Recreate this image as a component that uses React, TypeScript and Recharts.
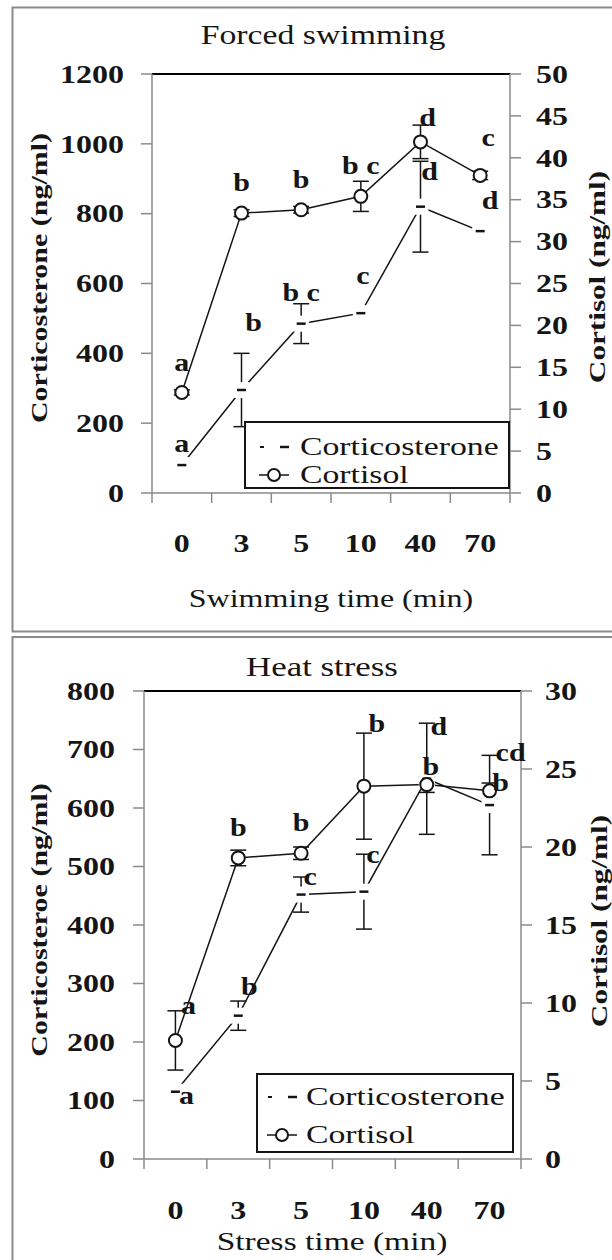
import React from 'react'
import { ComposedChart, Line, XAxis, YAxis, ErrorBar, LabelList, Legend, ReferenceLine } from 'recharts'

const SERIF = "'Liberation Serif', 'Times New Roman', Times, serif"
const INK = '#151515'
const AXIS = '#8a8a8a'

// forced swimming (top panel)
const swimTimes = ['0', '3', '5', '10', '40', '70']
const swimCortico = [80, 295, 485, 515, 820, 750]
const swimCorticoErr = [0, 105, 57, 0, 130, 0]
const swimCortisol = [12, 33.4, 33.8, 35.4, 41.9, 37.9]
const swimCortisolErr = [0.3, 0.4, 0.4, 1.8, 2.0, 0.5]
const swimCorticoLetters = ['a', 'b', 'b c', 'c', 'd', 'd']
const swimCortisolLetters = ['a', 'b', 'b', 'b c', 'd', 'c']
const swimLeftTicks = [0, 200, 400, 600, 800, 1000, 1200]
const swimRightTicks = [0, 5, 10, 15, 20, 25, 30, 35, 40, 45, 50]

// heat stress (bottom panel)
const heatTimes = ['0', '3', '5', '10', '40', '70']
const heatCortico = [115, 245, 452, 457, 650, 605]
const heatCorticoErr = [0, 25, 30, 64, 95, 85]
const heatCortisol = [7.6, 19.3, 19.6, 23.9, 24.0, 23.6]
const heatCortisolErr = [1.9, 0.5, 0.4, 3.4, 0.5, 0.5]
const heatCorticoLetters = ['a', 'b', 'c', 'c', 'd', 'cd']
const heatCortisolLetters = ['a', 'b', 'b', 'b', 'b', 'b']
const heatLeftTicks = [0, 100, 200, 300, 400, 500, 600, 700, 800]
const heatRightTicks = [0, 5, 10, 15, 20, 25, 30]

const buildRows = (
  times: string[], cortico: number[], corticoErr: number[], cortisol: number[],
  cortisolErr: number[], corticoLetters: string[], cortisolLetters: string[]
) =>
  times.map((time, i) => ({
    time,
    cortico: cortico[i],
    corticoErr: corticoErr[i],
    cortisol: cortisol[i],
    cortisolErr: cortisolErr[i],
    corticoLetter: corticoLetters[i],
    cortisolLetter: cortisolLetters[i],
  }))

const swimRows = buildRows(swimTimes, swimCortico, swimCorticoErr, swimCortisol, swimCortisolErr, swimCorticoLetters, swimCortisolLetters)
const heatRows = buildRows(heatTimes, heatCortico, heatCorticoErr, heatCortisol, heatCortisolErr, heatCorticoLetters, heatCortisolLetters)

type TxtProps = {
  x: number
  y: number
  anchor?: 'start' | 'middle' | 'end'
  size?: number
  bold?: boolean
  sx?: number
  rotate?: number
  children: React.ReactNode
}

// the figure's type is drawn wide, so every string is stretched along its baseline
const Txt = ({ x, y, anchor = 'middle', size = 25, bold = false, sx = 1.28, rotate = 0, children }: TxtProps) => (
  <text
    transform={`translate(${x} ${y}) rotate(${rotate}) scale(${sx} 1)`}
    textAnchor={anchor}
    dominantBaseline="central"
    fontFamily={SERIF}
    fontSize={size}
    fontWeight={bold ? 700 : 400}
    fill={INK}
  >
    {children}
  </text>
)

type Layout = {
  width: number
  height: number
  plotLeft: number
  plotRight: number
  plotTop: number
  plotBottom: number
  leftGap: number
  rightGap: number
  xLabelDy: number
  legend: { x: number; y: number; w: number; h: number; row1: number; row2: number; textX: number; iconX: number }
  corticoOff: number[][]
  cortisolOff: number[][]
}

const swimLayout: Layout = {
  width: 612,
  height: 634,
  plotLeft: 152,
  plotRight: 510,
  plotTop: 74,
  plotBottom: 493,
  leftGap: 17,
  rightGap: 15,
  xLabelDy: 50,
  legend: { x: 244, y: 421, w: 266, h: 68, row1: 26, row2: 54, textX: 56, iconX: 30 },
  corticoOff: [[0, -22], [12, -68], [0, -31], [2, -38], [9, -35], [10, -31]],
  cortisolOff: [[0, -30], [0, -31], [0, -30], [0, -31], [7, -24], [8, -38]],
}

const heatLayout: Layout = {
  width: 612,
  height: 626,
  plotLeft: 144,
  plotRight: 521,
  plotTop: 57,
  plotBottom: 525,
  leftGap: 18,
  rightGap: 13,
  xLabelDy: 51,
  legend: { x: 256, y: 439, w: 258, h: 80, row1: 24, row2: 62, textX: 50, iconX: 26 },
  corticoOff: [[11, 4], [11, -29], [9, -18], [9, -37], [12, -52], [21, -53]],
  cortisolOff: [[13, -35], [0, -31], [0, -31], [13, -63], [4, -18], [11, -8]],
}

// corticosterone marker: a short dash on a white patch that breaks the line and bars
const DashDot = (p: any) => {
  if (p.cx == null || p.cy == null) return <g key={p.index} />
  return (
    <g key={p.index}>
      <rect x={p.cx - 8} y={p.cy - 8} width={16} height={16} fill="#fff" />
      <line x1={p.cx - 4.5} x2={p.cx + 4.5} y1={p.cy} y2={p.cy} stroke={INK} strokeWidth={2.5} />
    </g>
  )
}

const CircleDot = (p: any) => {
  if (p.cx == null || p.cy == null) return <g key={p.index} />
  return <circle key={p.index} cx={p.cx} cy={p.cy} r={6.5} fill="#fff" stroke={INK} strokeWidth={2} />
}

const Letter = (p: any) => {
  const [dx, dy] = p.off[p.index] ?? [0, -28]
  return (
    <Txt x={p.x + dx} y={p.y + dy} bold sx={1.2}>
      {p.value}
    </Txt>
  )
}

const XTick = (p: any) => {
  const { x, y, payload, index, band, dy, last } = p
  return (
    <g>
      <line x1={x - band / 2} x2={x - band / 2} y1={y} y2={y + 10} stroke={AXIS} strokeWidth={1.5} />
      {index === last && <line x1={x + band / 2} x2={x + band / 2} y1={y} y2={y + 10} stroke={AXIS} strokeWidth={1.5} />}
      <Txt x={x} y={y + dy} bold>
        {payload.value}
      </Txt>
    </g>
  )
}

const LegendBox = ({ payload, lg }: any) => (
  <svg width={lg.w} height={lg.h} style={{ display: 'block', overflow: 'visible' }}>
    <rect x={1} y={1} width={lg.w - 2} height={lg.h - 2} fill="#fff" stroke={INK} strokeWidth={2} />
    {(payload ?? [])
      .filter((item: any) => item.type !== 'none')
      .map((item: any, i: number) => {
        const cy = i === 0 ? lg.row1 : lg.row2
        return (
          <g key={item.value}>
            {item.dataKey === 'cortico' ? (
              <>
                <line x1={lg.iconX - 14} x2={lg.iconX - 10} y1={cy} y2={cy} stroke={INK} strokeWidth={2} />
                <line x1={lg.iconX + 6} x2={lg.iconX + 15} y1={cy} y2={cy} stroke={INK} strokeWidth={2.5} />
              </>
            ) : (
              <>
                <line x1={lg.iconX - 15} x2={lg.iconX + 15} y1={cy} y2={cy} stroke={INK} strokeWidth={1.5} />
                <circle cx={lg.iconX} cy={cy} r={6} fill="#fff" stroke={INK} strokeWidth={2} />
              </>
            )}
            <Txt x={lg.textX} y={cy} anchor="start" sx={1.35}>
              {item.value}
            </Txt>
          </g>
        )
      })}
  </svg>
)

type ChartProps = { rows: ReturnType<typeof buildRows>; leftTicks: number[]; rightTicks: number[]; lay: Layout }

const HormoneChart = ({ rows, leftTicks, rightTicks, lay }: ChartProps) => {
  const band = (lay.plotRight - lay.plotLeft) / rows.length
  const leftMax = leftTicks[leftTicks.length - 1]
  const rightMax = rightTicks[rightTicks.length - 1]
  return (
    <ComposedChart width={lay.width} height={lay.height} data={rows} margin={{ top: lay.plotTop, right: 0, bottom: 0, left: 0 }}>
      <XAxis
        dataKey="time"
        scale="band"
        height={lay.height - lay.plotBottom}
        tickSize={0}
        tickMargin={0}
        tickLine={false}
        axisLine={{ stroke: AXIS, strokeWidth: 1.5 }}
        interval={0}
        tick={(p: any) => <XTick {...p} band={band} dy={lay.xLabelDy} last={rows.length - 1} />}
      />
      <YAxis
        yAxisId="left"
        width={lay.plotLeft}
        domain={[0, leftMax]}
        ticks={leftTicks}
        interval={0}
        tickSize={11}
        tickMargin={0}
        axisLine={{ stroke: AXIS, strokeWidth: 1.5 }}
        tickLine={{ stroke: AXIS, strokeWidth: 1.5 }}
        tick={(p: any) => (
          <Txt x={p.x - lay.leftGap} y={p.y} anchor="end" bold>
            {p.payload.value}
          </Txt>
        )}
      />
      <YAxis
        yAxisId="right"
        orientation="right"
        width={lay.width - lay.plotRight}
        domain={[0, rightMax]}
        ticks={rightTicks}
        interval={0}
        tickSize={11}
        tickMargin={0}
        axisLine={{ stroke: AXIS, strokeWidth: 1.5 }}
        tickLine={{ stroke: AXIS, strokeWidth: 1.5 }}
        tick={(p: any) => (
          <Txt x={p.x + lay.rightGap} y={p.y} anchor="start" bold>
            {p.payload.value}
          </Txt>
        )}
      />
      <ReferenceLine yAxisId="left" y={leftMax} stroke="#000" strokeWidth={2.2} ifOverflow="visible" />
      <Legend
        layout="horizontal"
        verticalAlign="middle"
        align="center"
        wrapperStyle={{ left: lay.legend.x, top: lay.legend.y, width: lay.legend.w, height: lay.legend.h }}
        content={(p: any) => <LegendBox payload={p.payload} lg={lay.legend} />}
      />
      {/* corticosterone: line + error bars, then the markers on top so they break both */}
      <Line
        yAxisId="left"
        dataKey="cortico"
        name="Corticosterone"
        stroke={INK}
        strokeWidth={1.5}
        dot={false}
        activeDot={false}
        isAnimationActive={false}
      >
        <ErrorBar dataKey="corticoErr" width={8} stroke={INK} strokeWidth={1.5} isAnimationActive={false} />
      </Line>
      <Line
        yAxisId="left"
        dataKey="cortico"
        name="Corticosterone markers"
        legendType="none"
        stroke="none"
        dot={(p: any) => <DashDot {...p} />}
        activeDot={false}
        isAnimationActive={false}
      >
        <LabelList dataKey="corticoLetter" content={(p: any) => <Letter {...p} off={lay.corticoOff} />} />
      </Line>
      {/* cortisol: same split, circles cover the middle of their bars */}
      <Line
        yAxisId="right"
        dataKey="cortisol"
        name="Cortisol"
        stroke={INK}
        strokeWidth={1.5}
        dot={false}
        activeDot={false}
        isAnimationActive={false}
      >
        <ErrorBar dataKey="cortisolErr" width={8} stroke={INK} strokeWidth={1.5} isAnimationActive={false} />
      </Line>
      <Line
        yAxisId="right"
        dataKey="cortisol"
        name="Cortisol markers"
        legendType="none"
        stroke="none"
        dot={(p: any) => <CircleDot {...p} />}
        activeDot={false}
        isAnimationActive={false}
      >
        <LabelList dataKey="cortisolLetter" content={(p: any) => <Letter {...p} off={lay.cortisolOff} />} />
      </Line>
    </ComposedChart>
  )
}

export default function App() {
  return (
    <div style={{ position: 'absolute', left: 0, top: 0, width: 612, height: 1260, background: '#fff', overflow: 'hidden' }}>
      <div style={{ position: 'absolute', left: 0, top: 0 }}>
        <HormoneChart rows={swimRows} leftTicks={swimLeftTicks} rightTicks={swimRightTicks} lay={swimLayout} />
      </div>
      <div style={{ position: 'absolute', left: 0, top: 634 }}>
        <HormoneChart rows={heatRows} leftTicks={heatLeftTicks} rightTicks={heatRightTicks} lay={heatLayout} />
      </div>
      <svg width={612} height={1260} style={{ position: 'absolute', left: 0, top: 0, pointerEvents: 'none' }}>
        <rect x={12.5} y={7.5} width={700} height={624} fill="none" stroke={AXIS} strokeWidth={2} />
        <rect x={12.5} y={637} width={700} height={700} fill="none" stroke={AXIS} strokeWidth={2} />
        <Txt x={323} y={35} size={27} sx={1.25}>Forced swimming</Txt>
        <Txt x={39} y={278} size={24} bold sx={1.25} rotate={-90}>Corticosterone (ng/ml)</Txt>
        <Txt x={597} y={277} size={24} bold sx={1.3} rotate={-90}>Cortisol (ng/ml)</Txt>
        <Txt x={331} y={598} size={25} sx={1.28}>Swimming time (min)</Txt>
        <Txt x={322} y={667} size={27} sx={1.29}>Heat stress</Txt>
        <Txt x={39} y={920} size={24} bold sx={1.25} rotate={-90}>Corticosteroe (ng/ml)</Txt>
        <Txt x={599} y={921} size={24} bold sx={1.3} rotate={-90}>Cortisol (ng/ml)</Txt>
        <Txt x={332} y={1242} size={25} sx={1.34}>Stress time (min)</Txt>
      </svg>
    </div>
  )
}
